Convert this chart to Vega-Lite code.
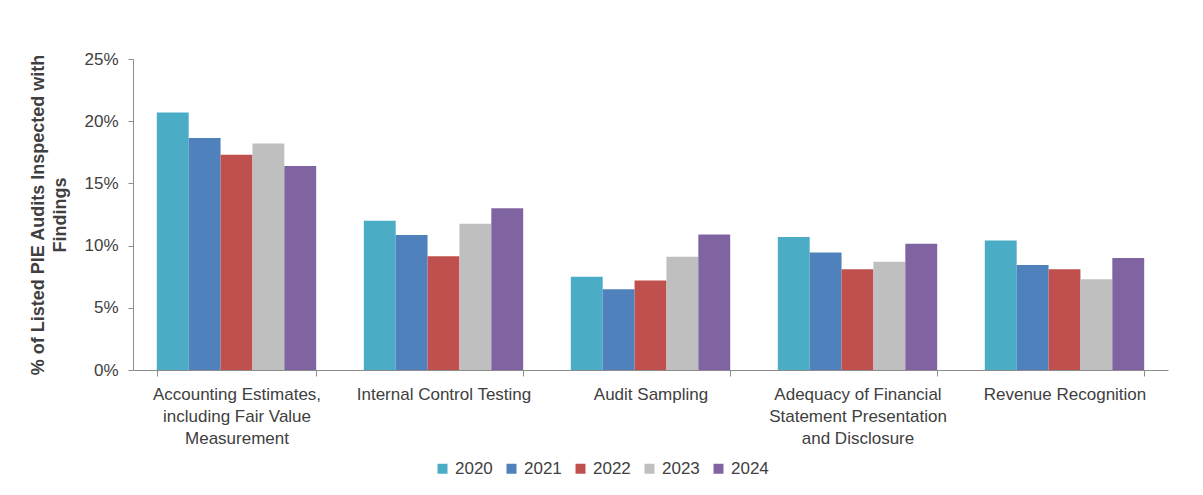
{
  "$schema": "https://vega.github.io/schema/vega-lite/v6.json",
  "width": 1035,
  "height": 311,
  "autosize": {"type": "none"},
  "padding": {"left": 133, "top": 59, "right": 35, "bottom": 125},
  "background": "white",
  "config": {
    "font": "Liberation Sans",
    "view": {"stroke": null},
    "axis": {"labelFont": "Liberation Sans", "labelColor": "#404040", "labelFontSize": 17, "domainColor": "#8c8c8c", "tickColor": "#8c8c8c", "grid": false}
  },
  "data": {
    "values": [
      {"category": "Accounting Estimates, including Fair Value Measurement", "year": "2020", "value": 20.7},
      {"category": "Accounting Estimates, including Fair Value Measurement", "year": "2021", "value": 18.65},
      {"category": "Accounting Estimates, including Fair Value Measurement", "year": "2022", "value": 17.3},
      {"category": "Accounting Estimates, including Fair Value Measurement", "year": "2023", "value": 18.2},
      {"category": "Accounting Estimates, including Fair Value Measurement", "year": "2024", "value": 16.4},
      {"category": "Internal Control Testing", "year": "2020", "value": 12.0},
      {"category": "Internal Control Testing", "year": "2021", "value": 10.85},
      {"category": "Internal Control Testing", "year": "2022", "value": 9.15},
      {"category": "Internal Control Testing", "year": "2023", "value": 11.75},
      {"category": "Internal Control Testing", "year": "2024", "value": 13.0},
      {"category": "Audit Sampling", "year": "2020", "value": 7.5},
      {"category": "Audit Sampling", "year": "2021", "value": 6.5},
      {"category": "Audit Sampling", "year": "2022", "value": 7.2},
      {"category": "Audit Sampling", "year": "2023", "value": 9.1},
      {"category": "Audit Sampling", "year": "2024", "value": 10.9},
      {"category": "Adequacy of Financial Statement Presentation and Disclosure", "year": "2020", "value": 10.7},
      {"category": "Adequacy of Financial Statement Presentation and Disclosure", "year": "2021", "value": 9.45},
      {"category": "Adequacy of Financial Statement Presentation and Disclosure", "year": "2022", "value": 8.1},
      {"category": "Adequacy of Financial Statement Presentation and Disclosure", "year": "2023", "value": 8.7},
      {"category": "Adequacy of Financial Statement Presentation and Disclosure", "year": "2024", "value": 10.15},
      {"category": "Revenue Recognition", "year": "2020", "value": 10.4},
      {"category": "Revenue Recognition", "year": "2021", "value": 8.45},
      {"category": "Revenue Recognition", "year": "2022", "value": 8.1},
      {"category": "Revenue Recognition", "year": "2023", "value": 7.3},
      {"category": "Revenue Recognition", "year": "2024", "value": 9.0}
    ]
  },
  "mark": {"type": "bar"},
  "encoding": {
    "x": {
      "field": "category",
      "type": "nominal",
      "sort": null,
      "scale": {"paddingInner": 0.23, "paddingOuter": 0.115},
      "axis": {
        "title": null,
        "labelAngle": 0,
        "labelPadding": 10,
        "labelLineHeight": 22,
        "labelBaseline": "top",
        "tickBand": "extent",
        "tickSize": 6,
        "labelExpr": "datum.label == 'Accounting Estimates, including Fair Value Measurement' ? ['Accounting Estimates,', 'including Fair Value', 'Measurement'] : datum.label == 'Adequacy of Financial Statement Presentation and Disclosure' ? ['Adequacy of Financial', 'Statement Presentation', 'and Disclosure'] : datum.label"
      }
    },
    "xOffset": {"field": "year", "type": "nominal", "scale": {"paddingInner": 0, "paddingOuter": 0}},
    "y": {
      "field": "value",
      "type": "quantitative",
      "scale": {"domain": [0, 25], "nice": false},
      "axis": {
        "values": [0, 5, 10, 15, 20, 25],
        "labelExpr": "datum.value + '%'",
        "tickSize": 5,
        "labelPadding": 10,
        "title": ["% of Listed PIE Audits Inspected with", "Findings"],
        "titleFontSize": 18,
        "titleFontWeight": "bold",
        "titleColor": "#404040",
        "titleLineHeight": 22,
        "titlePadding": 14
      }
    },
    "color": {
      "field": "year",
      "type": "nominal",
      "scale": {"domain": ["2020", "2021", "2022", "2023", "2024"], "range": ["#4BACC6", "#4F81BD", "#C0504D", "#BFBFBF", "#8064A2"]},
      "legend": {
        "title": null,
        "orient": "none",
        "legendX": 301,
        "legendY": 401,
        "direction": "horizontal",
        "symbolType": "square",
        "symbolSize": 100,
        "symbolStrokeWidth": 0,
        "labelFontSize": 17,
        "labelColor": "#404040",
        "labelFont": "Liberation Sans",
        "labelOffset": 4,
        "columnPadding": 10
      }
    }
  }
}
